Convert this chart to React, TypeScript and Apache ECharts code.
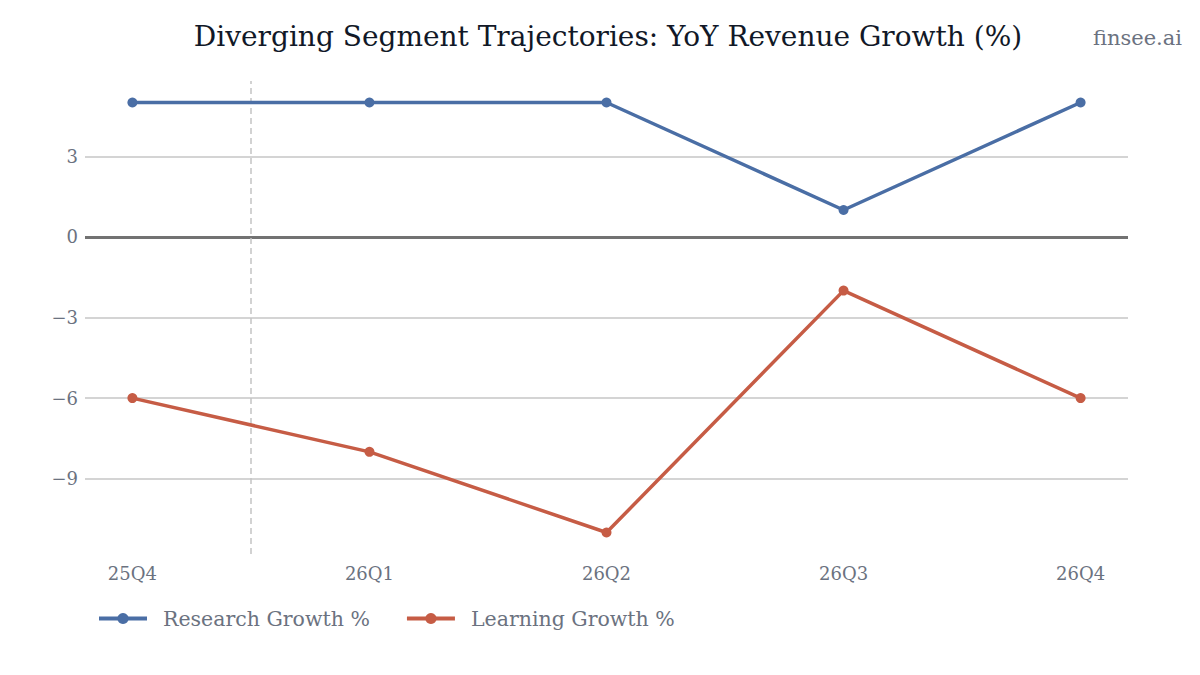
import React, { useEffect, useRef } from "react";
import * as echarts from "echarts";

const categories = ["25Q4", "26Q1", "26Q2", "26Q3", "26Q4"];
const researchGrowth = [5, 5, 5, 1, 5];
const learningGrowth = [-6, -8, -11, -2, -6];
const yTicks = [-9, -6, -3, 0, 3];
const dividerAt = 0.5;

const FONT = "'DejaVu Serif', serif";
const GRAY = "#6b7280";

export default function App() {
  const ref = useRef<HTMLDivElement>(null);
  useEffect(() => {
    if (!ref.current) return;
    const chart = echarts.init(ref.current, undefined, { renderer: "svg" });
    const toPts = (arr: number[]) => arr.map((v, i) => [i, v]);
    chart.setOption({
      animation: false,
      backgroundColor: "#ffffff",
      textStyle: { fontFamily: FONT },
      title: {
        text: "Diverging Segment Trajectories: YoY Revenue Growth (%)",
        left: 603,
        textAlign: "center",
        top: 17,
        textStyle: { fontFamily: FONT, fontSize: 28, fontWeight: "normal", color: "#111827" },
      },
      graphic: [
        {
          type: "text",
          right: 18,
          top: 27,
          style: { text: "finsee.ai", fontFamily: FONT, fontSize: 21, fill: GRAY },
        },
      ],
      grid: { left: 85, right: 72, top: 81, bottom: 121 },
      legend: {
        left: 92,
        top: 603,
        itemWidth: 48,
        itemHeight: 14,
        itemGap: 35,
        textStyle: { fontFamily: FONT, fontSize: 20.5, color: GRAY, padding: [0, 0, 0, 11] },
        lineStyle: { width: 4 },
        data: ["Research Growth %", "Learning Growth %"],
      },
      xAxis: {
        type: "value",
        min: -0.2,
        max: 4.2,
        axisLine: { show: false },
        axisTick: { show: false, customValues: [0, 1, 2, 3, 4] },
        splitLine: { show: false },
        axisLabel: {
          customValues: [0, 1, 2, 3, 4],
          formatter: (v: number) => categories[Math.round(v)] ?? "",
          color: GRAY,
          fontFamily: FONT,
          fontSize: 18,
          margin: 10,
        },
      },
      yAxis: {
        type: "value",
        min: -11.8,
        max: 5.8,
        axisLine: { show: false },
        axisTick: { show: false, customValues: yTicks },
        splitLine: { show: true, lineStyle: { color: "#c6c6c6", width: 1.5 } },
        axisLabel: {
          customValues: yTicks,
          formatter: (v: number) => (v < 0 ? "\u2212" + Math.abs(v) : String(v)),
          color: GRAY,
          fontFamily: FONT,
          fontSize: 18,
          margin: 7,
        },
      },
      series: [
        {
          name: "Research Growth %",
          type: "line",
          data: toPts(researchGrowth),
          color: "#4a6ea5",
          lineStyle: { width: 3.5 },
          symbol: "circle",
          symbolSize: 10,
          z: 5,
          markLine: {
            silent: true,
            symbol: "none",
            label: { show: false },
            data: [
              { yAxis: 0, lineStyle: { color: "#727272", width: 3, type: "solid" } },
              { xAxis: dividerAt, lineStyle: { color: "#c4c4c4", width: 1.5, type: [6, 4] } },
            ],
          },
        },
        {
          name: "Learning Growth %",
          type: "line",
          data: toPts(learningGrowth),
          color: "#c65c45",
          lineStyle: { width: 3.5 },
          symbol: "circle",
          symbolSize: 10,
          z: 5,
        },
      ],
    });
    return () => chart.dispose();
  }, []);
  return <div ref={ref} style={{ width: 1200, height: 675, marginLeft: -8, marginTop: -8 }} />;
}
